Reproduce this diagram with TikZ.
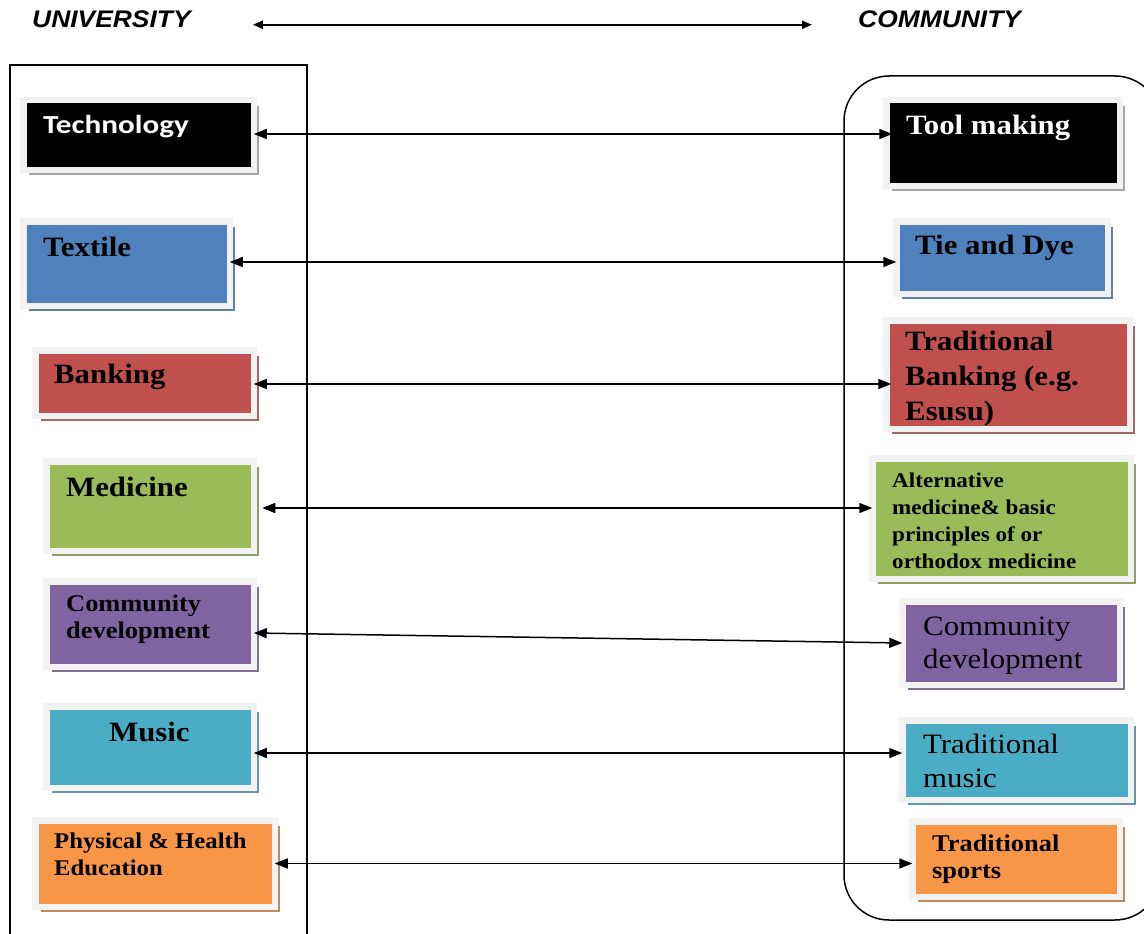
\documentclass[tikz,border=0pt]{standalone}
\usepackage{fontspec}
\setmainfont{Liberation Serif}[FakeStretch=1.1]
\newfontfamily\calibfont{Carlito}[FakeStretch=1.2]
\newfontfamily\headfont{Liberation Sans}[FakeStretch=1.1]
\usetikzlibrary{arrows.meta,shadows}

\definecolor{framegray}{HTML}{F2F2F2}
\definecolor{cblue}{HTML}{4F81BD}
\definecolor{cred}{HTML}{C0504D}
\definecolor{cgreen}{HTML}{9BBB59}
\definecolor{cpurple}{HTML}{8064A2}
\definecolor{caqua}{HTML}{4BACC6}
\definecolor{corange}{HTML}{F79646}

\begin{document}
\begin{tikzpicture}[x=1pt,y=-1pt,
  box/.style={rectangle, draw=framegray, line width=6.5pt, outer sep=0pt,
    inner sep=0pt, anchor=north west},
  sh/.style={drop shadow={shadow xshift=5.5pt, shadow yshift=-5.5pt, fill=#1,
    draw=none, opacity=1}},
  lbl/.style={inner sep=0pt, anchor=base west, align=left},
  bigb/.style={lbl, font=\bfseries\fontsize{28}{35}\selectfont},
  midb/.style={lbl, font=\bfseries\fontsize{24}{27}\selectfont},
  biarrow/.style={{Triangle[length=13pt,width=10pt]}-{Triangle[length=13pt,width=10pt]},
    line width=1.5pt},
  hdrarrow/.style={{Triangle[length=10pt,width=8pt]}-{Triangle[length=10pt,width=8pt]},
    line width=2pt},
  frame/.style={line width=1.5pt}
]
\useasboundingbox (0,0) rectangle (1144,934);

% headings
\node[lbl, font=\headfont\bfseries\itshape\fontsize{24}{28}\selectfont] (uni) at (32,28) {UNIVERSITY};
\node[lbl, font=\headfont\bfseries\itshape\fontsize{24}{28}\selectfont] (com) at (858,28) {COMMUNITY};
\draw[hdrarrow, shorten <=62pt, shorten >=46pt] ([yshift=-5pt]uni.east) -- ([yshift=-5pt]com.west);

% the two enclosing frames
\draw[frame] (10,65) rectangle (307,950);
\draw[frame, rounded corners=45pt] (844,76) rectangle (1160,920);

% university side
\node[box, fill=black, sh=gray!70, minimum width=230.5pt, minimum height=69.5pt] (tech) at (23.25,100.25) {};
\node[box, fill=cblue, sh=cblue!50!gray, minimum width=206.5pt, minimum height=84.5pt] (textile) at (23.25,221.25) {};
\node[box, fill=cred, sh=cred!50!gray, minimum width=218.5pt, minimum height=65.5pt] (bank) at (35.25,350.25) {};
\node[box, fill=cgreen, sh=cgreen!50!gray, minimum width=207.5pt, minimum height=89.5pt] (med) at (46.25,461.25) {};
\node[box, fill=cpurple, sh=cpurple!50!gray, minimum width=207.5pt, minimum height=85.5pt] (comL) at (46.25,581.25) {};
\node[box, fill=caqua, sh=caqua!50!gray, minimum width=207.5pt, minimum height=81.5pt] (music) at (46.25,706.25) {};
\node[box, fill=corange, sh=corange!50!gray, minimum width=239.5pt, minimum height=86.5pt] (phys) at (35.25,820.25) {};

\node[lbl, text=white, font=\calibfont\bfseries\fontsize{26}{30}\selectfont] (techT) at (43,133) {Technology};
\node[bigb] (textileT) at (43,256) {Textile};
\node[bigb] (bankT) at (54,383) {Banking};
\node[bigb] (medT) at (66,496) {Medicine};
\node[midb] (comLT) at (66,611) {\parbox[t]{220pt}{Community\\development}};
\node[bigb] (musicT) at (109,741) {Music};
\node[lbl, font=\bfseries\fontsize{22.5}{27}\selectfont] (physT) at (54,848) {\parbox[t]{230pt}{Physical \& Health\\Education}};

% community side
\node[box, fill=black, sh=gray!70, minimum width=233.5pt, minimum height=85.5pt] (tool) at (886.25,100.25) {};
\node[box, fill=cblue, sh=cblue!50!gray, minimum width=211.5pt, minimum height=72.5pt] (tie) at (896.25,221.25) {};
\node[box, fill=cred, sh=cred!50!gray, minimum width=243.5pt, minimum height=108.5pt] (tbank) at (886.25,320.25) {};
\node[box, fill=cgreen, sh=cgreen!50!gray, minimum width=258.5pt, minimum height=120.5pt] (alt) at (872.25,458.25) {};
\node[box, fill=cpurple, sh=cpurple!50!gray, minimum width=217.5pt, minimum height=83.5pt] (comR) at (902.25,601.25) {};
\node[box, fill=caqua, sh=caqua!50!gray, minimum width=228.5pt, minimum height=79.5pt] (tmusic) at (902.25,720.25) {};
\node[box, fill=corange, sh=corange!50!gray, minimum width=207.5pt, minimum height=75.5pt] (sports) at (912.25,821.25) {};

\node[bigb, text=white] (toolT) at (906,134) {Tool making};
\node[bigb] (tieT) at (915,254) {Tie and Dye};
\node[bigb] (tbankT) at (905,350) {\parbox[t]{230pt}{Traditional\\Banking (e.g.\\Esusu)}};
\node[lbl, font=\bfseries\fontsize{21}{27}\selectfont] (altT) at (892,487) {\parbox[t]{240pt}{Alternative\\medicine\& basic\\principles of or\\orthodox medicine}};
\node[lbl, font=\fontsize{28}{33}\selectfont] (comRT) at (923,635) {\parbox[t]{200pt}{Community\\development}};
\node[lbl, font=\fontsize{28}{34}\selectfont] (tmusicT) at (923,753) {\parbox[t]{200pt}{Traditional\\music}};
\node[midb] (sportsT) at (932,851) {\parbox[t]{190pt}{Traditional\\sports}};

% links between the two sides
\draw[biarrow, shorten >=-6pt] ([yshift=1pt]tech.east) -- ([yshift=1pt]tech.east -| tool.west);
\draw[biarrow] ([yshift=1.5pt]textile.east) -- ([yshift=1.5pt]textile.east -| tie.west);
\draw[biarrow, shorten >=-5pt] ([yshift=-1pt]bank.east) -- ([yshift=-1pt]bank.east -| tbank.west);
\draw[biarrow, shorten <=8.5pt] ([yshift=-2pt]med.east) -- ([yshift=-2pt]med.east -| alt.west);
\draw[biarrow] ([yshift=-9pt]comL.east) -- (comR.west);
\draw[biarrow] ([yshift=-6pt]music.east) -- ([yshift=-6pt]music.east -| tmusic.west);
\draw[biarrow] (phys.east) -- (phys.east -| sports.west);
\end{tikzpicture}
\end{document}
